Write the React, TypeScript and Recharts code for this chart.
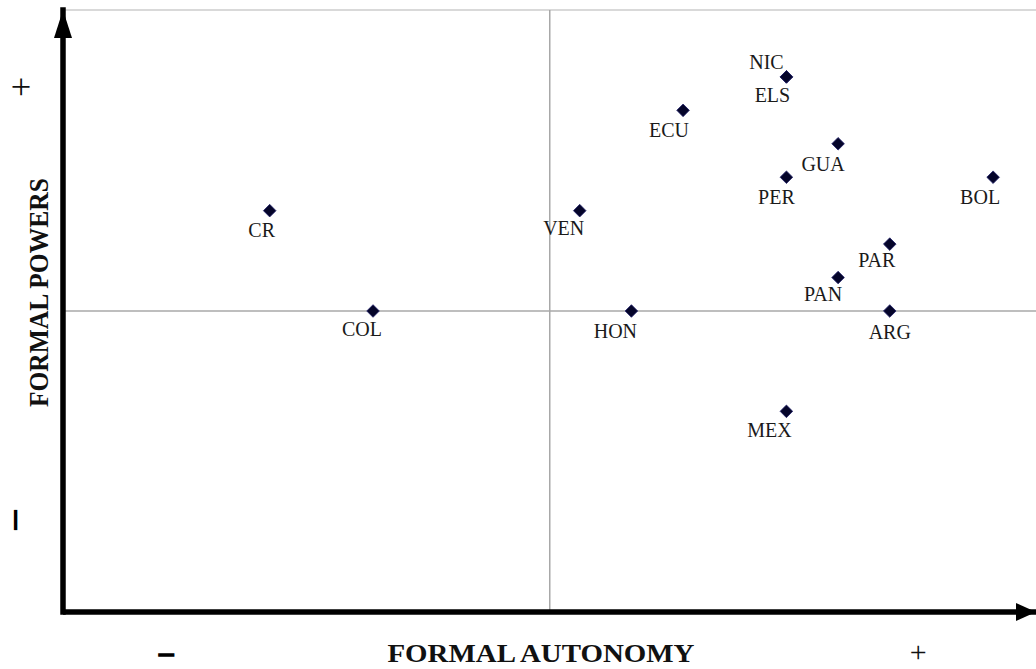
import {
  ScatterChart,
  Scatter,
  XAxis,
  YAxis,
  ReferenceLine,
  ReferenceDot,
} from 'recharts';

const countries = ['CR', 'COL', 'VEN', 'HON', 'ECU', 'NIC', 'ELS', 'GUA', 'PER', 'BOL', 'PAR', 'PAN', 'ARG', 'MEX'];
const autonomy = [4, 6, 10, 11, 12, 14, 14, 15, 14, 18, 16, 15, 16, 14];
const powers = [12, 9, 12, 9, 15, 16, 16, 14, 13, 13, 11, 10, 9, 6];

const xTicks = [2, 9.25, 16.55];
const xTickLabels = ['–', 'FORMAL AUTONOMY', '+'];
const yTicks = [2.75, 9.55, 15.7];
const yTickLabels = ['—', 'FORMAL POWERS', '+'];

const X_MAX = 18.83;
const Y_MAX = 18;
const X_MID = 9.42;
const Y_MID = 9;

// where each label sits relative to its marker (text centre, baseline)
const labelOffset: Record<string, [number, number]> = {
  CR: [-8, 26],
  COL: [-11, 25],
  VEN: [-16, 24],
  HON: [-16, 27],
  ECU: [-14, 27],
  NIC: [-20, -8],
  ELS: [-14, 25],
  GUA: [-15, 27],
  PER: [-10, 27],
  BOL: [-13, 27],
  PAR: [-13, 23],
  PAN: [-15, 23],
  ARG: [0, 28],
  MEX: [-17, 26],
};

const data = countries.map((name, i) => ({ name, x: autonomy[i], y: powers[i] }));

const SERIF = '"Liberation Serif", "Times New Roman", serif';

function CountryPoint(props: any) {
  const { cx, cy, payload } = props;
  const [dx, dy] = labelOffset[payload.name] ?? [-12, 26];
  const r = 6.3;
  return (
    <g>
      <polygon
        points={`${cx},${cy - r} ${cx + r},${cy} ${cx},${cy + r} ${cx - r},${cy}`}
        fill="#05052a"
        stroke="#20206a"
        strokeWidth={0.8}
      />
      <text x={cx + dx} y={cy + dy} textAnchor="middle" fontFamily={SERIF} fontSize={20} fill="#1a1a1a">
        {payload.name}
      </text>
    </g>
  );
}

function XTick(props: any) {
  const { x, payload, index } = props;
  const label = xTickLabels[index];
  if (label === '+') {
    return (
      <text x={x} y={662} textAnchor="middle" fontFamily={SERIF} fontSize={30} fill="#111">
        {label}
      </text>
    );
  }
  if (label === '–') {
    return (
      <text x={x} y={662} textAnchor="middle" fontFamily={SERIF} fontWeight="bold" fontSize={29} fill="#000" stroke="#000" strokeWidth={1.3}>
        {label}
      </text>
    );
  }
  return (
    <text x={x} y={662} textAnchor="middle" fontFamily={SERIF} fontWeight="bold" fontSize={26} fill="#111" textLength={307} lengthAdjust="spacingAndGlyphs">
      {label ?? payload.value}
    </text>
  );
}

function YTick(props: any) {
  const { y, payload, index } = props;
  const label = yTickLabels[index];
  if (label === '+') {
    const bx = 33;
    return (
      <text x={bx} y={y} transform={`rotate(-90, ${bx}, ${y})`} textAnchor="middle" fontFamily={SERIF} fontSize={36} fill="#111">
        {label}
      </text>
    );
  }
  if (label === '—') {
    const bx = 20;
    return (
      <text x={bx} y={y} transform={`rotate(-90, ${bx}, ${y})`} textAnchor="middle" fontFamily={SERIF} fontWeight="bold" fontSize={18} fill="#000" stroke="#000" strokeWidth={2}>
        {label}
      </text>
    );
  }
  const bx = 48;
  return (
    <text x={bx} y={y} transform={`rotate(-90, ${bx}, ${y})`} textAnchor="middle" fontFamily={SERIF} fontWeight="bold" fontSize={27} fill="#111" textLength={229} lengthAdjust="spacingAndGlyphs">
      {label ?? payload.value}
    </text>
  );
}

const upArrow = (props: any) => {
  const { cx, cy } = props;
  return <polygon points={`${cx},${cy} ${cx + 9},${cy + 28} ${cx - 9},${cy + 28}`} fill="#000" />;
};

const rightArrow = (props: any) => {
  const { cx, cy } = props;
  return <polygon points={`${cx},${cy} ${cx - 20},${cy - 9} ${cx - 20},${cy + 9}`} fill="#000" />;
};

export default function App() {
  return (
    <div style={{ width: 1036, height: 669, background: '#fff' }}>
      <style>{'body{margin:0}'}</style>
      <ScatterChart width={1036} height={669} margin={{ top: 10, right: 0, bottom: 0, left: 0 }}>
        <XAxis
          type="number"
          dataKey="x"
          domain={[0, X_MAX]}
          ticks={xTicks}
          interval={0}
          tick={<XTick />}
          axisLine={false}
          tickLine={false}
          height={57}
          allowDataOverflow
        />
        <YAxis
          type="number"
          dataKey="y"
          domain={[0, Y_MAX]}
          ticks={yTicks}
          interval={0}
          tick={<YTick />}
          axisLine={false}
          tickLine={false}
          width={63}
          allowDataOverflow
        />
        <ReferenceLine y={Y_MAX} stroke="#d9d9d9" strokeWidth={2} />
        <ReferenceLine x={X_MID} stroke="#a8a8a8" strokeWidth={1.5} />
        <ReferenceLine y={Y_MID} stroke="#a8a8a8" strokeWidth={1.5} />
        <ReferenceLine x={0} stroke="#000" strokeWidth={5.5} strokeLinecap="square" />
        <ReferenceLine y={0} stroke="#000" strokeWidth={5.5} />
        <ReferenceDot x={0} y={Y_MAX} r={0} shape={upArrow} ifOverflow="visible" />
        <ReferenceDot x={X_MAX} y={0} r={0} shape={rightArrow} ifOverflow="visible" />
        <Scatter data={data} shape={CountryPoint} isAnimationActive={false} />
      </ScatterChart>
    </div>
  );
}
